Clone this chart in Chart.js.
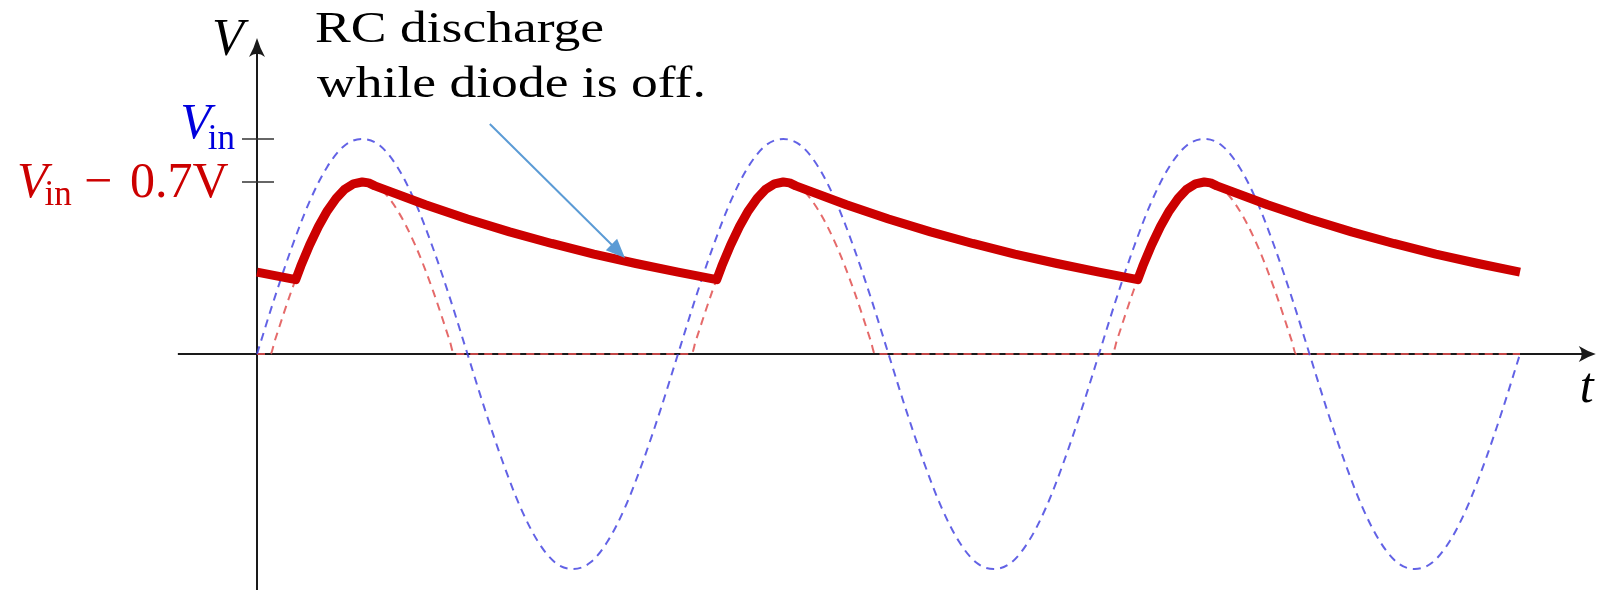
<!DOCTYPE html>
<html>
<head>
<meta charset="utf-8">
<script src="https://cdn.jsdelivr.net/npm/chart.js@4.4.0/dist/chart.umd.min.js"></script>
<style>
  html, body { margin: 0; padding: 0; background: #ffffff; }
  canvas { display: block; }
</style>
</head>
<body>
<canvas id="myChart" width="1599" height="590"></canvas>
<script>
// time in periods of the input sine, voltage relative to the input peak
const vinStep = 1 / 24;
const vin = [
  0, 0.26, 0.5, 0.71, 0.87, 0.97, 1, 0.97, 0.87, 0.71, 0.5, 0.26,
  0, -0.26, -0.5, -0.71, -0.87, -0.97, -1, -0.97, -0.87, -0.71, -0.5, -0.26,
  0, 0.26, 0.5, 0.71, 0.87, 0.97, 1, 0.97, 0.87, 0.71, 0.5, 0.26,
  0, -0.26, -0.5, -0.71, -0.87, -0.97, -1, -0.97, -0.87, -0.71, -0.5, -0.26,
  0, 0.26, 0.5, 0.71, 0.87, 0.97, 1, 0.97, 0.87, 0.71, 0.5, 0.26,
  0, -0.26, -0.5, -0.71, -0.87, -0.97, -1, -0.97, -0.87, -0.71, -0.5, -0.26,
  0
];

// Vin - 0.7V, clipped at zero (diode without capacitor)
const rectT = [
  0, 0.032, 0.042, 0.083, 0.125, 0.167, 0.208, 0.25, 0.292, 0.333, 0.375, 0.417, 0.458, 0.468,
  1, 1.032, 1.042, 1.083, 1.125, 1.167, 1.208, 1.25, 1.292, 1.333, 1.375, 1.417, 1.458, 1.468,
  2, 2.032, 2.042, 2.083, 2.125, 2.167, 2.208, 2.25, 2.292, 2.333, 2.375, 2.417, 2.458, 2.468,
  3
];
const rectV = [
  0, 0, 0.06, 0.3, 0.51, 0.67, 0.77, 0.8, 0.77, 0.67, 0.51, 0.3, 0.06, 0,
  0, 0, 0.06, 0.3, 0.51, 0.67, 0.77, 0.8, 0.77, 0.67, 0.51, 0.3, 0.06, 0,
  0, 0, 0.06, 0.3, 0.51, 0.67, 0.77, 0.8, 0.77, 0.67, 0.51, 0.3, 0.06, 0,
  0
];

// capacitor voltage: charges with the input, then RC discharge
const outT = [
  0, 0.092, 0.104, 0.125, 0.146, 0.167, 0.188, 0.208, 0.229, 0.25, 0.265, 0.28,
  0.4, 0.5, 0.6, 0.7, 0.8, 0.9,
  1, 1.092, 1.104, 1.125, 1.146, 1.167, 1.188, 1.208, 1.229, 1.25, 1.265, 1.28,
  1.4, 1.5, 1.6, 1.7, 1.8, 1.9,
  2, 2.092, 2.104, 2.125, 2.146, 2.167, 2.188, 2.208, 2.229, 2.25, 2.265, 2.28,
  2.4, 2.5, 2.6, 2.7, 2.8, 2.9,
  3
];
const outV = [
  0.381, 0.346, 0.409, 0.507, 0.593, 0.666, 0.724, 0.766, 0.791, 0.8, 0.796, 0.782,
  0.694, 0.628, 0.568, 0.514, 0.465, 0.421,
  0.381, 0.346, 0.409, 0.507, 0.593, 0.666, 0.724, 0.766, 0.791, 0.8, 0.796, 0.782,
  0.694, 0.628, 0.568, 0.514, 0.465, 0.421,
  0.381, 0.346, 0.409, 0.507, 0.593, 0.666, 0.724, 0.766, 0.791, 0.8, 0.796, 0.782,
  0.694, 0.628, 0.568, 0.514, 0.465, 0.421,
  0.381
];

const peakLevels = [1, 0.8]; // Vin and Vin - 0.7V
const noteLines = ['RC discharge', 'while diode is off.'];

const serif = '"Liberation Serif"';

function arrowHead(ctx, x, y, angle, len, half) {
  ctx.save();
  ctx.translate(x, y);
  ctx.rotate(angle);
  ctx.beginPath();
  ctx.moveTo(0, 0);
  ctx.quadraticCurveTo(-len * 0.5, -half * 0.35, -len, -half);
  ctx.quadraticCurveTo(-len * 0.65, 0, -len, half);
  ctx.quadraticCurveTo(-len * 0.5, half * 0.35, 0, 0);
  ctx.fill();
  ctx.restore();
}

const axesPlugin = {
  id: 'axes',
  beforeDatasetsDraw(chart) {
    const { ctx, scales: { x, y } } = chart;
    const x0 = x.getPixelForValue(0);
    const y0 = y.getPixelForValue(0);
    const xl = x.getPixelForValue(-0.188);
    const xr = x.getPixelForValue(3.18);
    const yt = y.getPixelForValue(1.47);
    ctx.save();
    ctx.strokeStyle = '#1a1a1a';
    ctx.fillStyle = '#1a1a1a';
    ctx.lineWidth = 2;
    ctx.beginPath();
    ctx.moveTo(xl, y0);
    ctx.lineTo(xr - 10, y0);
    ctx.moveTo(x0, chart.height);
    ctx.lineTo(x0, yt + 12);
    ctx.stroke();
    arrowHead(ctx, xr, y0, 0, 17, 8);
    arrowHead(ctx, x0, yt, -Math.PI / 2, 19, 8);

    // ticks on the V axis
    ctx.lineWidth = 1.5;
    ctx.strokeStyle = '#333';
    peakLevels.forEach(v => {
      const py = y.getPixelForValue(v);
      ctx.beginPath();
      ctx.moveTo(x0 - 15, py);
      ctx.lineTo(x0 + 17, py);
      ctx.stroke();
    });
    ctx.restore();
  },
  afterDatasetsDraw(chart) {
    const { ctx, scales: { x, y } } = chart;
    const x0 = x.getPixelForValue(0);
    const y0 = y.getPixelForValue(0);
    ctx.save();
    ctx.textBaseline = 'alphabetic';
    ctx.textAlign = 'left';

    // axis names
    ctx.fillStyle = '#000';
    ctx.font = 'italic 52px ' + serif;
    ctx.fillText('V', x0 - 45, y.getPixelForValue(1.47) + 17);
    ctx.font = 'italic 50px ' + serif;
    ctx.fillText('t', x.getPixelForValue(3.18) - 16, y0 + 48);

    // Vin label
    const yIn = y.getPixelForValue(peakLevels[0]);
    ctx.fillStyle = '#0000dd';
    ctx.font = 'italic 50px ' + serif;
    const wV = ctx.measureText('V').width;
    ctx.font = '35px ' + serif;
    const wIn = ctx.measureText('in').width;
    let sx = x0 - 22 - (wV - 3 + wIn);
    ctx.font = 'italic 50px ' + serif;
    ctx.fillText('V', sx, yIn - 1);
    ctx.font = '35px ' + serif;
    ctx.fillText('in', sx + wV - 3, yIn + 10);

    // Vin - 0.7V label
    const yDrop = y.getPixelForValue(peakLevels[1]);
    ctx.fillStyle = '#cc0000';
    sx = x0 - 240;
    ctx.font = 'italic 50px ' + serif;
    ctx.fillText('V', sx, yDrop + 15);
    ctx.font = '35px ' + serif;
    ctx.fillText('in', sx + wV - 3, yDrop + 23);
    ctx.font = '50px ' + serif;
    ctx.fillText('\u2212', sx + 67, yDrop + 15);
    ctx.fillText('0.7V', sx + 113, yDrop + 15);

    // note with its arrow
    ctx.fillStyle = '#000';
    ctx.font = '45px ' + serif;
    const tx = x.getPixelForValue(0.138);
    const ty = y.getPixelForValue(1.451);
    noteLines.forEach((line, i) => {
      ctx.save();
      ctx.translate(tx + i * 2, ty + i * 55);
      ctx.scale(1.19, 1);
      ctx.fillText(line, 0, 0);
      ctx.restore();
    });

    const ax = x.getPixelForValue(0.553), ay = y.getPixelForValue(1.07);
    const bx = x.getPixelForValue(0.874), by = y.getPixelForValue(0.447);
    const ang = Math.atan2(by - ay, bx - ax);
    ctx.strokeStyle = '#5b9bd5';
    ctx.fillStyle = '#5b9bd5';
    ctx.lineWidth = 2;
    ctx.beginPath();
    ctx.moveTo(ax, ay);
    ctx.lineTo(bx - Math.cos(ang) * 14, by - Math.sin(ang) * 14);
    ctx.stroke();
    ctx.save();
    ctx.translate(bx, by);
    ctx.rotate(ang);
    ctx.beginPath();
    ctx.moveTo(0, 0);
    ctx.lineTo(-19, -8);
    ctx.lineTo(-19, 8);
    ctx.closePath();
    ctx.fill();
    ctx.restore();
    ctx.restore();
  }
};

const toPoints = (ts, vs) => ts.map((t, i) => ({ x: t, y: vs[i] }));

const data = {
  datasets: [
    {
      label: 'V out',
      data: toPoints(outT, outV),
      borderColor: '#cc0000',
      borderWidth: 9,
      tension: 0,
      borderJoinStyle: 'round',
      pointRadius: 0
    },
    {
      label: 'Vin',
      data: vin.map((v, i) => ({ x: i * vinStep, y: v })),
      borderColor: 'rgba(70, 70, 225, 0.85)',
      borderWidth: 2,
      borderDash: [8, 6],
      cubicInterpolationMode: 'monotone',
      pointRadius: 0
    },
    {
      label: 'Vin - 0.7V',
      data: toPoints(rectT, rectV),
      borderColor: 'rgba(225, 80, 80, 0.85)',
      borderWidth: 2,
      borderDash: [8, 6],
      cubicInterpolationMode: 'monotone',
      pointRadius: 0
    }
  ]
};

const config = {
  type: 'line',
  data: data,
  options: {
    responsive: false,
    animation: false,
    events: [],
    layout: { padding: 0 },
    plugins: {
      legend: { display: false },
      tooltip: { enabled: false }
    },
    scales: {
      x: { type: 'linear', display: false, min: -257 / 421, max: 1342 / 421 },
      y: { type: 'linear', display: false, min: -236 / 215, max: 354 / 215 }
    }
  },
  plugins: [axesPlugin]
};

const fontsReady = Promise.all([
  document.fonts.load('45px "Liberation Serif"'),
  document.fonts.load('italic 50px "Liberation Serif"')
]).catch(() => null);

fontsReady.then(() => {
  new Chart(document.getElementById('myChart'), config);
});
</script>
</body>
</html>
